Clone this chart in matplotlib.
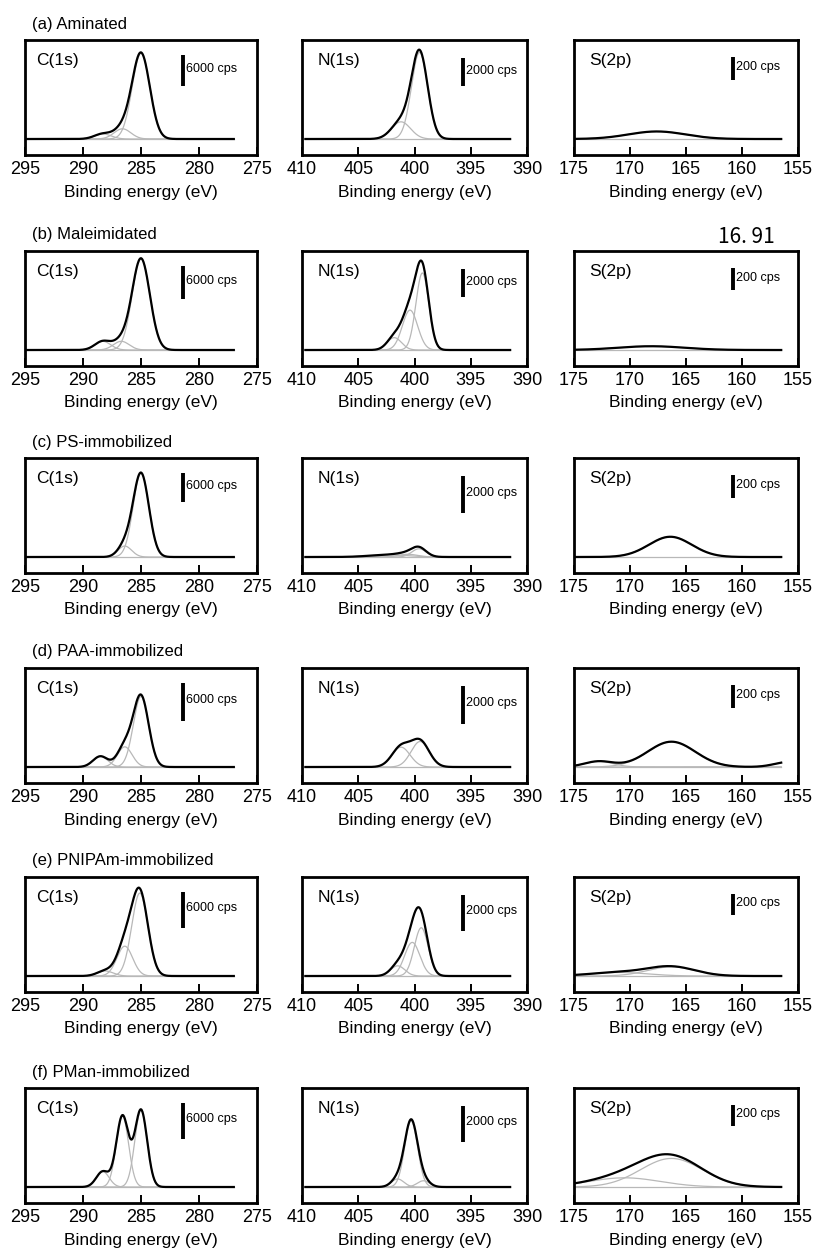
import numpy as np
import matplotlib
matplotlib.use('Agg')
import matplotlib.pyplot as plt
from matplotlib.transforms import blended_transform_factory

plt.rcParams['font.family'] = ['Liberation Sans', 'DejaVu Sans']

row_labels = ['(a) Aminated', '(b) Maleimidated', '(c) PS-immobilized',
              '(d) PAA-immobilized', '(e) PNIPAm-immobilized', '(f) PMan-immobilized']
core_levels = ['C(1s)', 'N(1s)', 'S(2p)']
bar_cps = [6000, 2000, 200]
bar_labels = ['6000 cps', '2000 cps', '200 cps']
x_lims = [(295, 275), (410, 390), (175, 155)]
x_spans = [(295, 277), (409.7, 391.5), (175, 156.5)]

# fitted components: (centre eV, height cps, fwhm eV)
c1s_peaks = [
    [(285.0, 16800, 1.8), (286.6, 2000, 1.7), (288.3, 1000, 1.7)],
    [(285.0, 16800, 1.8), (286.7, 1600, 1.6), (288.3, 1600, 1.6)],
    [(285.0, 17600, 1.6), (286.4, 2300, 1.4)],
    [(285.0, 11200, 1.55), (286.4, 3200, 1.5), (288.5, 1700, 1.5)],
    [(285.1, 13900, 1.65), (286.4, 5000, 1.6), (288.1, 850, 1.6)],
    [(285.0, 12900, 1.25), (286.6, 11900, 1.25), (288.3, 2600, 1.3)],
]
n1s_peaks = [
    [(399.55, 6300, 1.7), (401.2, 1250, 2.0)],
    [(399.3, 5600, 1.35), (400.4, 2900, 1.6), (401.8, 900, 1.5)],
    [(399.6, 450, 1.5), (400.6, 150, 2.0), (402.3, 120, 4.0)],
    [(399.5, 1350, 1.9), (401.2, 1050, 1.9)],
    [(399.4, 2700, 1.45), (400.2, 1880, 1.6), (401.5, 570, 1.5)],
    [(400.3, 3700, 1.35), (401.5, 450, 1.3), (399.2, 350, 1.3)],
]
s2p_peaks = [
    [(167.6, 67, 6.0)],
    [(168.1, 35, 7.0)],
    [(166.4, 180, 4.5)],
    [(172.8, 50, 3.0), (166.3, 225, 5.0), (155.8, 45, 3.0)],
    [(171.0, 35, 6.0), (166.3, 90, 5.0)],
    [(170.5, 90, 7.5), (166.3, 280, 6.5)],
]
# top of each frame in cps (panels are scaled individually)
c1s_top = [19400, 18200, 20800, 15700, 16600, 16600]
n1s_top = [7200, 7200, 5400, 5240, 5540, 5540]
s2p_top = [880, 920, 880, 880, 970, 970]

peaks = [c1s_peaks, n1s_peaks, s2p_peaks]
y_tops = [c1s_top, n1s_top, s2p_top]

W, H = 815, 1250
fig = plt.figure(figsize=(W / 100, H / 100), dpi=100)
col_left = [25, 302, 574]
col_width = [232, 225, 224]
row_top = [40, 251, 458, 668, 877, 1088]
box_h = 115
base_px = 16
bar_x = [0.68, 0.715, 0.71]
bar_top = [0.87, 0.84, 0.85]
name_x = [0.05, 0.07, 0.067]


def gauss(x, c, h, w):
    s = w / 2.3548
    return h * np.exp(-0.5 * ((x - c) / s) ** 2)


for i, label in enumerate(row_labels):
    for j in range(3):
        ax = fig.add_axes([col_left[j] / W, 1 - (row_top[i] + box_h) / H,
                           col_width[j] / W, box_h / H])
        x = np.linspace(x_spans[j][0], x_spans[j][1], 600)
        comps = [gauss(x, *p) for p in peaks[j][i]]
        ax.plot(x, np.zeros_like(x), color='#b8b8b8', lw=0.9)
        for c in comps:
            ax.plot(x, c, color='#b8b8b8', lw=0.9)
        ax.plot(x, np.sum(comps, axis=0), color='k', lw=1.6)

        ymax = y_tops[j][i]
        ymin = -ymax * base_px / (box_h - base_px)
        ax.set_ylim(ymin, ymax)
        ax.set_xlim(*x_lims[j])
        ax.set_xticks(np.arange(x_lims[j][0], x_lims[j][1] - 1, -5))
        ax.set_yticks([])
        ax.tick_params(axis='x', direction='in', length=6, width=1.4,
                       labelsize=13, pad=4)
        for sp in ax.spines.values():
            sp.set_linewidth(2)
        ax.set_xlabel('Binding energy (eV)', fontsize=12.5, labelpad=5)

        # scale bar
        tr = blended_transform_factory(ax.transAxes, ax.transData)
        yt = ymin + bar_top[j] * (ymax - ymin)
        ax.plot([bar_x[j], bar_x[j]], [yt - bar_cps[j], yt], transform=tr,
                color='k', lw=2.8, solid_capstyle='butt')
        ax.text(bar_x[j] + 0.012, yt - bar_cps[j] * 0.45, bar_labels[j],
                transform=tr, fontsize=9, va='center', ha='left')
        ax.text(name_x[j], 0.82, core_levels[j], transform=ax.transAxes,
                fontsize=12.5, va='center', ha='left')

    fig.text(32 / W, 1 - (row_top[i] - 16) / H, label, fontsize=12,
             va='center', ha='left')

fig.text(775 / W, 1 - 237 / H, '16. 91', fontsize=15, ha='right', va='center',
         family=['Noto Sans CJK JP', 'DejaVu Sans'])

fig.savefig('out.png', dpi=100)
